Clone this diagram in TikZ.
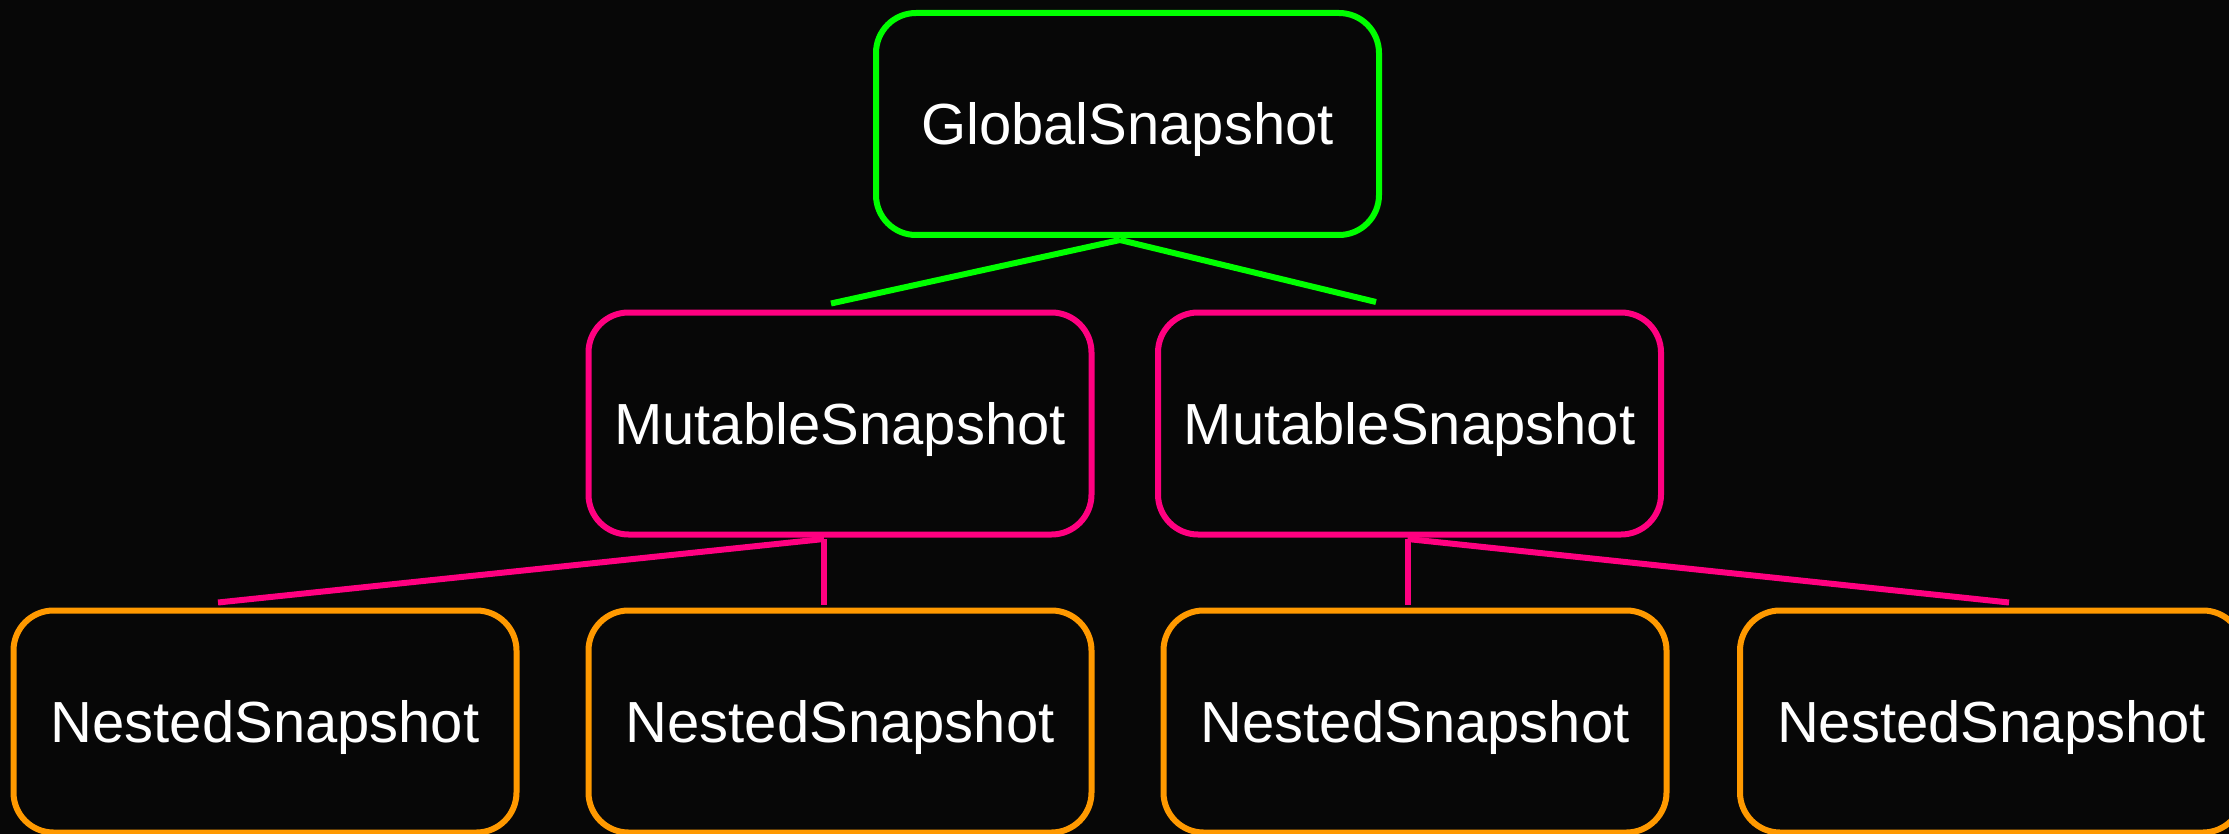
\documentclass[tikz,border=0pt]{standalone}
\usepackage{fontspec}
\setmainfont{Liberation Sans}
\usetikzlibrary{calc}
\definecolor{bg}{HTML}{070707}
\definecolor{cgreen}{HTML}{00FF00}
\definecolor{cpink}{HTML}{FF0080}
\definecolor{corange}{HTML}{FF9900}
\begin{document}
\begin{tikzpicture}[x=1pt,y=-1pt,
  snapbox/.style={rectangle, rounded corners=40pt, line width=6pt, fill=bg,
    minimum width=503pt, minimum height=222pt, inner sep=0pt, text=white,
    font=\fontsize{58}{70}\selectfont, text height=41.5pt, text depth=0pt},
  gbox/.style={snapbox, draw=cgreen},
  mbox/.style={snapbox, draw=cpink},
  nbox/.style={snapbox, draw=corange},
  glink/.style={line width=6pt, draw=cgreen},
  plink/.style={line width=6pt, draw=cpink}]
\fill[bg] (0,0) rectangle (2229,834);
\useasboundingbox (0,0) rectangle (2229,834);

\node[gbox] (G) at (1127.5,124) {GlobalSnapshot};
\node[mbox] (M1) at (840,423.5) {MutableSnapshot};
\node[mbox] (M2) at (1409.5,423.5) {MutableSnapshot};
\node[nbox] (N1) at (265,721.5) {NestedSnapshot};
\node[nbox] (N2) at (840,721.5) {NestedSnapshot};
\node[nbox] (N3) at (1415,721.5) {NestedSnapshot};
\node[nbox] (N4) at (1991.5,721.5) {NestedSnapshot};

\coordinate (gs) at ($(G.south)+(-7.5,2)$);
\coordinate (m1n) at ($(M1.north)+(-9,-6)$);
\coordinate (m2n) at ($(M2.north)+(-33.5,-7.5)$);
\coordinate (m1s) at ($(M1.south)+(-16,1.5)$);
\coordinate (m2s) at ($(M2.south)+(-2,1.5)$);
\coordinate (n1n) at ($(N1.north)+(-47,-5)$);
\coordinate (n2n) at ($(N2.north)+(-16,-2.5)$);
\coordinate (n3n) at ($(N3.north)+(-7.5,-2.5)$);
\coordinate (n4n) at ($(N4.north)+(17.5,-5)$);

\draw[glink] (gs) -- (m1n);
\draw[glink] (gs) -- (m2n);
\draw[plink] (m1s) -- (n1n);
\draw[plink] (m1s) -- (n2n);
\draw[plink] (m2s) -- (n3n);
\draw[plink] (m2s) -- (n4n);
\end{tikzpicture}
\end{document}
